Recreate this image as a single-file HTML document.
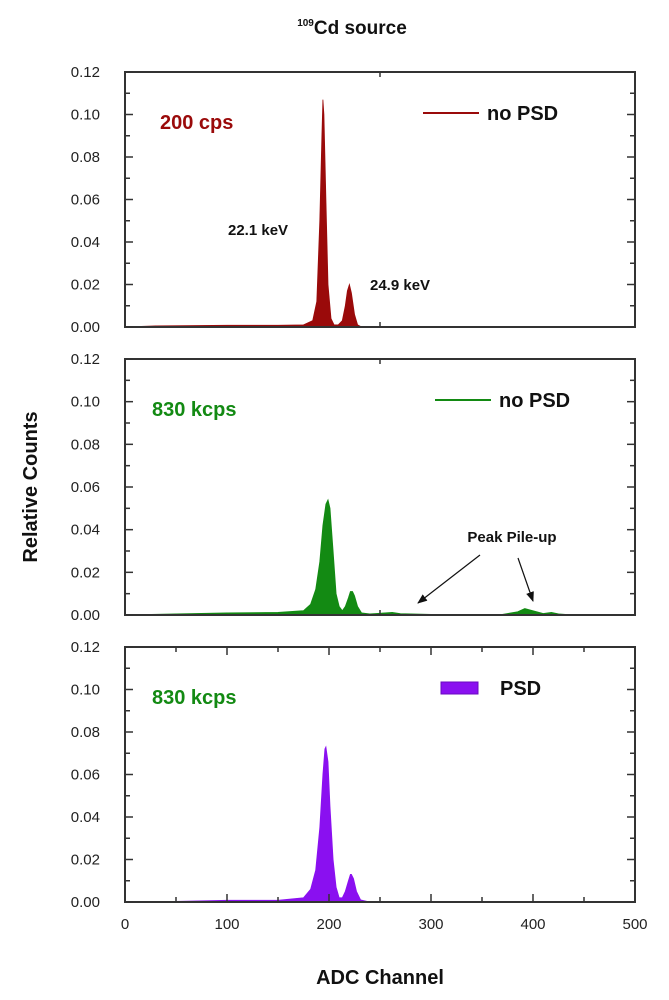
<!DOCTYPE html>
<html><head><meta charset="utf-8"><style>
html,body{margin:0;padding:0;background:#fff;}
svg{display:block;font-family:"Liberation Sans",Arial,sans-serif;}
</style></head><body>
<svg id="chart" width="669" height="1000" viewBox="0 0 669 1000" xmlns="http://www.w3.org/2000/svg">
<text x="352" y="34" text-anchor="middle" font-size="19" font-weight="bold" fill="#111"><tspan font-size="10" dy="-8">109</tspan><tspan dy="8">Cd source</tspan></text>
<text transform="translate(37,487) rotate(-90)" text-anchor="middle" font-size="20" font-weight="bold" fill="#111">Relative Counts</text>
<text x="380" y="984" text-anchor="middle" font-size="20" font-weight="bold" fill="#111">ADC Channel</text>
<g id="plots"></g>
</svg>
<script>
const xTicks = [0,100,200,300,400,500];
const yTicks = [0,0.02,0.04,0.06,0.08,0.10,0.12];
const yTickLabels = ["0.00","0.02","0.04","0.06","0.08","0.10","0.12"];
const ch200cps = [0,30,100,150,175,184,188,191,193,194,195,197,199,202,205,209,213,216,218,220,222,225,228,232,250,500];
const val200cps = [0,0.0005,0.0008,0.0008,0.001,0.003,0.012,0.05,0.09,0.107,0.1,0.06,0.02,0.004,0.001,0.001,0.003,0.01,0.017,0.02,0.016,0.006,0.001,0,0,0];
const ch830 = [0,50,100,150,175,182,187,191,194,197,199,201,204,207,210,213,216,219,221,223,225,228,232,240,255,262,270,300,370,385,392,400,410,418,425,440,500];
const val830 = [0,0.0005,0.001,0.0012,0.002,0.005,0.012,0.025,0.042,0.052,0.054,0.05,0.03,0.01,0.004,0.002,0.004,0.008,0.011,0.011,0.009,0.004,0.001,0.0005,0.001,0.0012,0.0006,0.0003,0.0003,0.0015,0.003,0.002,0.0007,0.0012,0.0005,0,0];
const ch830psd = [0,50,100,150,175,182,187,191,194,196,197,199,201,204,207,210,213,216,219,221,222,224,227,231,240,500];
const val830psd = [0,0.0003,0.0008,0.0008,0.002,0.006,0.015,0.035,0.06,0.072,0.073,0.066,0.045,0.02,0.007,0.002,0.002,0.005,0.01,0.013,0.013,0.011,0.005,0.001,0,0];

const NS='http://www.w3.org/2000/svg';
const root=document.getElementById('plots');
const X0=125, X1=635;
const panels=[
 {top:72,bot:327,ch:ch200cps,val:val200cps,color:'#9a0a0a',label:'200 cps',lcol:'#9a0a0a',legend:'no PSD',ltype:'line',lx:423,key:'panel-200cps',fullTicks:false},
 {top:359,bot:615,ch:ch830,val:val830,color:'#138a13',label:'830 kcps',lcol:'#138a13',legend:'no PSD',ltype:'line',lx:435,key:'panel-830kcps-no-psd',fullTicks:false},
 {top:647,bot:902,ch:ch830psd,val:val830psd,color:'#8a10f0',label:'830 kcps',lcol:'#138a13',legend:'PSD',ltype:'rect',lx:441,key:'panel-830kcps-psd',fullTicks:true}
];
function mk(tag,attrs,parent){const e=document.createElementNS(NS,tag);for(const k in attrs)e.setAttribute(k,attrs[k]);(parent||root).appendChild(e);return e;}
function xs(c){return X0+(c/500)*(X1-X0);}
panels.forEach((p,pi)=>{
 const ys=v=>p.bot-(v/0.12)*(p.bot-p.top);
 const g=mk('g',{});
 
 
 let d='M'+xs(p.ch[0])+','+ys(0);
 for(let i=0;i<p.ch.length;i++) d+=' L'+xs(p.ch[i]).toFixed(1)+','+ys(p.val[i]).toFixed(1);
 d+=' L'+xs(p.ch[p.ch.length-1])+','+ys(0)+' Z';
 const area=mk('path',{d:d,fill:p.color,stroke:p.color,'stroke-width':0.8},g);
 
 
 const fr=mk('rect',{x:X0,y:p.top,width:X1-X0,height:p.bot-p.top,fill:'none',stroke:'#333','stroke-width':2},g);
 
 
 for(let k=0;k<=12;k++){
  const v=k*0.01, y=ys(v), L=(k%2===0)?8:5;
  mk('line',{x1:X0,x2:X0+L,y1:y,y2:y,stroke:'#333','stroke-width':1.5},g);
  mk('line',{x1:X1,x2:X1-L,y1:y,y2:y,stroke:'#333','stroke-width':1.5},g);
 }
 yTicks.forEach((v,i)=>{
  const t=mk('text',{x:100,y:ys(v)+5,'text-anchor':'end','font-size':15,fill:'#222'},g);
  t.textContent=yTickLabels[i];
  
  
 });
 const xt=p.fullTicks?[50,100,150,200,250,300,350,400,450]:[250];
 xt.forEach(c=>{const L=(c%100===0)?8:5;
  mk('line',{x1:xs(c),x2:xs(c),y1:p.bot,y2:p.bot-L,stroke:'#333','stroke-width':1.5},g);
  mk('line',{x1:xs(c),x2:xs(c),y1:p.top,y2:p.top+L,stroke:'#333','stroke-width':1.5},g);});
 const lb=mk('text',{x:pi===0?160:152,y:p.top+57,'font-size':20,'font-weight':'bold',fill:p.lcol},g);
 lb.textContent=p.label;
 
 
 const ly=p.top+41;
 if(p.ltype==='line'){
  const ll=mk('line',{x1:p.lx,x2:p.lx+56,y1:ly,y2:ly,stroke:p.color,'stroke-width':2},g);
  
  
 } else {
  const lr=mk('rect',{x:p.lx,y:ly-6,width:37,height:12,fill:p.color,stroke:'#6a0ac0'},g);
  
  
 }
 const lt=mk('text',{x:p.ltype==='line'?p.lx+64:500,y:ly+7,'font-size':20,'font-weight':'bold',fill:'#111'},g);
 lt.textContent=p.legend;
 
 
});
xTicks.forEach(c=>{
 const t=mk('text',{x:xs(c),y:929,'text-anchor':'middle','font-size':15,fill:'#222'});
 t.textContent=String(c);
 
 
});
const a1=mk('text',{x:228,y:235,'font-size':15,'font-weight':'bold',fill:'#111'});
a1.textContent='22.1 keV';


const a2=mk('text',{x:370,y:290,'font-size':15,'font-weight':'bold',fill:'#111'});
a2.textContent='24.9 keV';


const pp=mk('text',{x:512,y:542,'text-anchor':'middle','font-size':15,'font-weight':'bold',fill:'#111'});
pp.textContent='Peak Pile-up';


const defs=mk('defs',{});
const mkr=mk('marker',{id:'ah',markerWidth:10,markerHeight:8,refX:9,refY:4,orient:'auto',markerUnits:'userSpaceOnUse'},defs);
mk('path',{d:'M0,0 L10,4 L0,8 Z',fill:'#111'},mkr);
const ar1=mk('line',{x1:480,y1:555,x2:418,y2:603,stroke:'#111','stroke-width':1.2,'marker-end':'url(#ah)'});


const ar2=mk('line',{x1:518,y1:558,x2:533,y2:601,stroke:'#111','stroke-width':1.2,'marker-end':'url(#ah)'});


</script>
</body></html>
